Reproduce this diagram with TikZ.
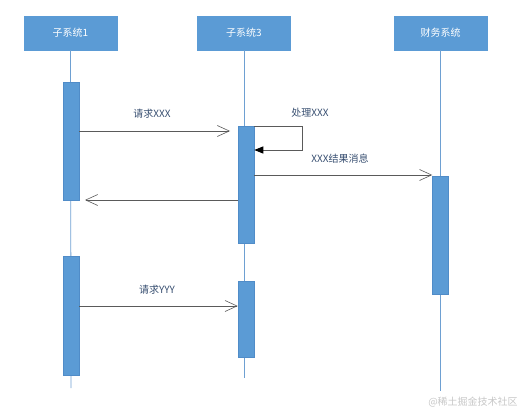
\documentclass[tikz,border=0pt]{standalone}
\usepackage{fontspec}
\newfontfamily\cjk{Noto Sans CJK SC}
\usetikzlibrary{arrows.meta}
\definecolor{boxblue}{RGB}{91,155,213}
\definecolor{boxedge}{RGB}{80,140,200}
\definecolor{lifeblue}{RGB}{110,160,210}
\definecolor{msggray}{RGB}{90,90,90}
\definecolor{labelcol}{RGB}{55,78,112}
\tikzset{
  header/.style={fill=boxblue, draw=boxblue, minimum width=93pt, minimum height=34pt, inner sep=0pt, text=white, font=\cjk\fontsize{10}{11}\selectfont},
  actbox/.style={fill=boxblue, draw=boxedge, line width=0.5pt, minimum width=16pt, inner sep=0pt},
  lifeline/.style={draw=lifeblue, line width=0.9pt},
  msg/.style={draw=msggray, line width=0.8pt, -{Straight Barb[length=12pt,width=11pt,line width=0.6pt]}},
  selfmsg/.style={draw=msggray, line width=0.8pt, -{Triangle[length=9pt,width=7pt,fill=black,color=black]}},
  lbl/.style={text=labelcol, font=\cjk\fontsize{10}{11}\selectfont, inner sep=0pt},
  wm/.style={text=black!22, font=\cjk\fontsize{10}{11}\selectfont, inner sep=0pt}
}
\begin{document}
\begin{tikzpicture}[x=1pt,y=-1pt]
\useasboundingbox (0,0) rectangle (528,412);
% headers
\node[header] (h1) at (70.5,33) {子系统1};
\node[header] (h2) at (244,33) {子系统3};
\node[header] (h3) at (440.5,33) {财务系统};
% lifeline ends
\coordinate (e1) at (71,388);
\coordinate (e2) at (244,378);
\coordinate (e3) at (440.5,391);
\draw[lifeline] (h1.south) -- (e1);
\draw[lifeline] (h2.south) -- (e2);
\draw[lifeline] (h3.south) -- (e3);
% activation boxes
\node[actbox, minimum height=118pt] (a1) at (71,141) {};
\node[actbox, minimum height=117pt] (a2) at (246,184.5) {};
\node[actbox, minimum height=118pt] (a3) at (440.5,235) {};
\node[actbox, minimum height=119pt] (a4) at (71,315.5) {};
\node[actbox, minimum height=76pt] (a5) at (246,319) {};
% messages
\coordinate (m1e) at (230,131);
\draw[msg] (a1.east |- 0,131) -- (m1e);
\node[lbl] (l1) at (152,114) {请求XXX};
\coordinate (s1) at (302,126);
\coordinate (s2) at (302,150);
\draw[selfmsg] (a2.east |- 0,126) -- (s1) -- (s2) -- (a2.east |- 0,150);
\node[lbl] (l2) at (310,113) {处理XXX};
\draw[msg] (a2.east |- 0,175) -- (a3.west |- 0,175);
\node[lbl] (l3) at (340,159) {XXX结果消息};
\coordinate (r1e) at (85,200);
\draw[msg] (a2.west |- 0,200) -- (r1e);
\draw[msg] (a4.east |- 0,306) -- (a5.west |- 0,306);
\node[lbl] (l4) at (157,290) {请求YYY};
% watermark
\node[wm] (wm) at (473,402) {@稀土掘金技术社区};
\end{tikzpicture}
\end{document}
